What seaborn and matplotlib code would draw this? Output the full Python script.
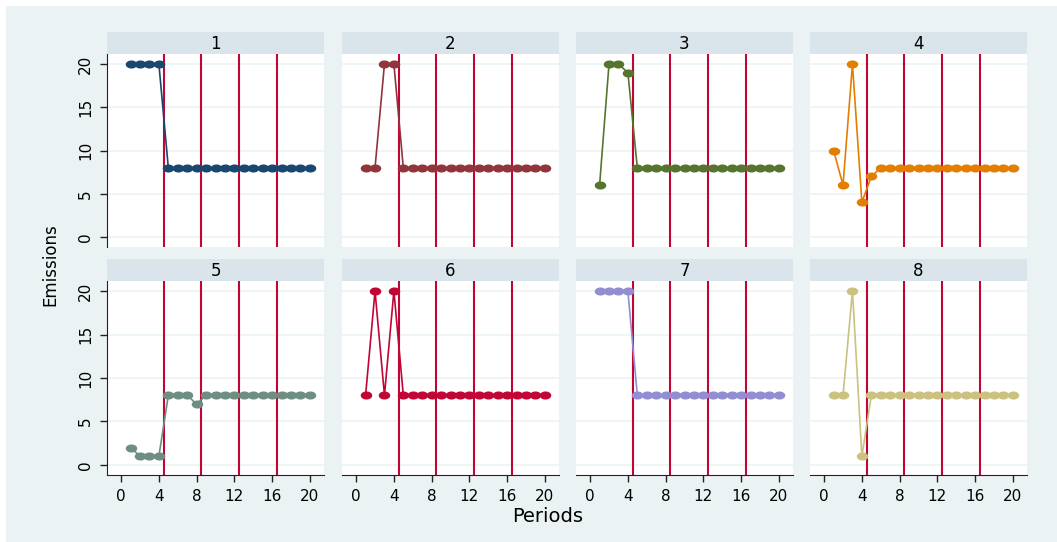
import numpy as np
import pandas as pd
import matplotlib
matplotlib.use('Agg')
import matplotlib.pyplot as plt
import seaborn as sns
from matplotlib.path import Path
from matplotlib.patches import Rectangle

periods = list(range(1, 21))
emis_1 = [20, 20, 20, 20, 8, 8, 8, 8, 8, 8, 8, 8, 8, 8, 8, 8, 8, 8, 8, 8]
emis_2 = [8, 8, 20, 20, 8, 8, 8, 8, 8, 8, 8, 8, 8, 8, 8, 8, 8, 8, 8, 8]
emis_3 = [6, 20, 20, 19, 8, 8, 8, 8, 8, 8, 8, 8, 8, 8, 8, 8, 8, 8, 8, 8]
emis_4 = [10, 6, 20, 4, 7, 8, 8, 8, 8, 8, 8, 8, 8, 8, 8, 8, 8, 8, 8, 8]
emis_5 = [2, 1, 1, 1, 8, 8, 8, 7, 8, 8, 8, 8, 8, 8, 8, 8, 8, 8, 8, 8]
emis_6 = [8, 20, 8, 20, 8, 8, 8, 8, 8, 8, 8, 8, 8, 8, 8, 8, 8, 8, 8, 8]
emis_7 = [20, 20, 20, 20, 8, 8, 8, 8, 8, 8, 8, 8, 8, 8, 8, 8, 8, 8, 8, 8]
emis_8 = [8, 8, 20, 1, 8, 8, 8, 8, 8, 8, 8, 8, 8, 8, 8, 8, 8, 8, 8, 8]
panel_names = ['1', '2', '3', '4', '5', '6', '7', '8']
colors = ['#1a476f', '#90353b', '#55752f', '#e37e00', '#6e8e84', '#c10534', '#938dd2', '#cac27e']
break_points = [4.5, 8.5, 12.5, 16.5]
x_ticks = [0, 4, 8, 12, 16, 20]
y_ticks = [0, 5, 10, 15, 20]

all_emis = [emis_1, emis_2, emis_3, emis_4, emis_5, emis_6, emis_7, emis_8]
df = pd.concat([pd.DataFrame({'panel': name, 'Periods': periods, 'Emissions': e})
                for name, e in zip(panel_names, all_emis)], ignore_index=True)

# slightly flattened dot, like the stata export
t = np.linspace(0, 2*np.pi, 40)
ell = Path(np.column_stack([np.cos(t), 0.7*np.sin(t)]), closed=True)

bg = '#eaf2f3'
strip_col = '#d9e5ea'
W, H = 1057, 542

fig = plt.figure(figsize=(W/100, H/100), dpi=100, facecolor='white')
fig.patches.append(Rectangle((6/W, 0), 1-6/W, 1-6/H, transform=fig.transFigure,
                             facecolor=bg, edgecolor='none', zorder=-10))

col_left = [107, 342, 576, 810]
pw = 217
rows = [(54, 247), (281, 475)]
strip_h = 22

for i, name in enumerate(panel_names):
    r, c = divmod(i, 4)
    top, bot = rows[r]
    ax = fig.add_axes([col_left[c]/W, 1-bot/H, pw/W, (bot-top)/H], facecolor='white')
    sub = df[df['panel'] == name]
    for xb in break_points:
        ax.axvline(xb, color='#c10534', lw=1.5, zorder=1)
    sns.lineplot(data=sub, x='Periods', y='Emissions', color=colors[i], lw=1.2,
                 marker=ell, markersize=8.3, markeredgewidth=0, ax=ax, zorder=3)
    ax.set_xlim(-1.5, 21.5)
    ax.set_ylim(-1.16, 21.16)
    ax.set_yticks(y_ticks)
    ax.set_xticks(x_ticks)
    ax.grid(axis='y', color=bg, lw=1.1, zorder=0)
    ax.set_axisbelow(True)
    ax.set_xlabel('')
    ax.set_ylabel('')
    for s in ax.spines.values():
        s.set_visible(False)
    ax.tick_params(axis='both', colors='#222222', labelcolor='black', labelsize=11,
                   length=5, width=1)
    if c == 0:
        ax.spines['left'].set_visible(True)
        ax.spines['left'].set_color('#222222')
        ax.tick_params(axis='y', pad=5)
        for lab in ax.get_yticklabels():
            lab.set_rotation(90)
            lab.set_va('center')
    else:
        ax.tick_params(axis='y', left=False, labelleft=False)
    if r == 1:
        ax.spines['bottom'].set_visible(True)
        ax.spines['bottom'].set_color('#222222')
        ax.tick_params(axis='x', pad=5)
    else:
        ax.tick_params(axis='x', bottom=False, labelbottom=False)

    sax = fig.add_axes([col_left[c]/W, 1-top/H, pw/W, strip_h/H], facecolor=strip_col)
    sax.set_xticks([])
    sax.set_yticks([])
    for s in sax.spines.values():
        s.set_visible(False)
    sax.text(0.5, 0.47, name, ha='center', va='center', fontsize=12, transform=sax.transAxes)

fig.text(50/W, 1-265/H, 'Emissions', rotation=90, ha='center', va='center', fontsize=12)
fig.text(548/W, 1-517/H, 'Periods', ha='center', va='center', fontsize=14)

plt.savefig('out.png', dpi=100, facecolor='white')
